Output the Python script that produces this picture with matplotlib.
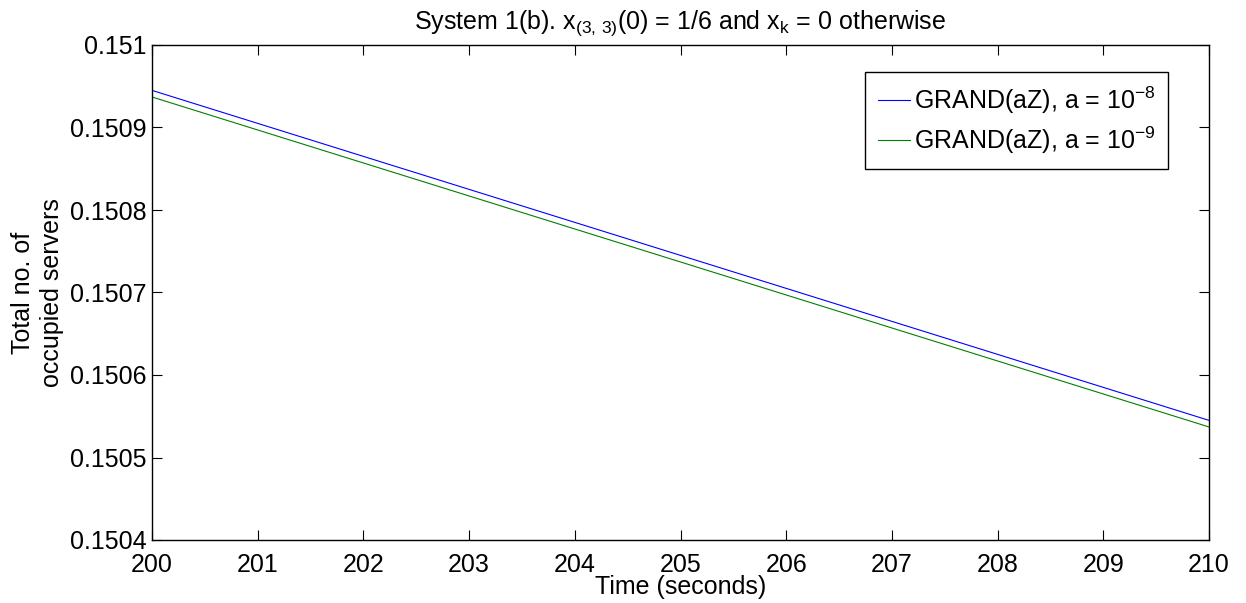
import numpy as np
import matplotlib
matplotlib.use("Agg")
import matplotlib.pyplot as plt

plt.rcParams['font.family'] = ['Liberation Sans', 'DejaVu Sans']
plt.rcParams['mathtext.fontset'] = 'custom'
plt.rcParams['mathtext.rm'] = 'Liberation Sans'
plt.rcParams['mathtext.it'] = 'Liberation Sans'
plt.rcParams['mathtext.bf'] = 'Liberation Sans:bold'

# data
time_s = [200, 201, 202, 203, 204, 205, 206, 207, 208, 209, 210]
servers_a8 = [0.150945, 0.150905, 0.150865, 0.150825, 0.150785, 0.150745,
              0.150705, 0.150665, 0.150625, 0.150585, 0.150545]
servers_a9 = [0.150937, 0.150897, 0.150857, 0.150817, 0.150777, 0.150737,
              0.150697, 0.150657, 0.150617, 0.150577, 0.150537]
x_ticks = [200, 201, 202, 203, 204, 205, 206, 207, 208, 209, 210]
y_ticks = [0.1504, 0.1505, 0.1506, 0.1507, 0.1508, 0.1509, 0.151]
y_tick_labels = ['0.1504', '0.1505', '0.1506', '0.1507', '0.1508', '0.1509', '0.151']

fig = plt.figure(figsize=(12.46, 6.03), dpi=100)
ax = fig.add_axes([152/1246, 1 - 540/603, (1209 - 152)/1246, (540 - 45)/603])

ax.plot(time_s, servers_a8, color=(0, 0, 1), lw=0.8, label=r'GRAND(aZ), a = 10$^{-8}$')
ax.plot(time_s, servers_a9, color=(0, 0.5, 0), lw=0.8, label=r'GRAND(aZ), a = 10$^{-9}$')

ax.set_xlim(200, 210)
ax.set_ylim(0.1504, 0.151)
ax.set_xticks(x_ticks)
ax.set_yticks(y_ticks)
ax.set_yticklabels(y_tick_labels)
ax.tick_params(direction='in', length=7, width=0.8, top=True, right=True,
               labelsize=18)
ax.tick_params(axis='x', pad=9)
ax.tick_params(axis='y', pad=4)
for s in ax.spines.values():
    s.set_linewidth(1.0)

ax.set_xlabel('Time (seconds)', fontsize=18, labelpad=-1)
ax.set_ylabel('Total no. of\noccupied servers', fontsize=18, labelpad=4,
              linespacing=1.3)
ax.set_title(r'System 1(b). x$_{(3,\,3)}$(0) = 1/6 and x$_{\rm k}$ = 0 otherwise',
             fontsize=18, pad=12)

leg = ax.legend(loc='upper right', bbox_to_anchor=(0.9612, 0.9455),
                borderaxespad=0, fontsize=18, handlelength=1.3,
                handletextpad=0.15, borderpad=0.5, labelspacing=0.35,
                fancybox=False, framealpha=1, edgecolor='black')
leg.get_frame().set_linewidth(1.0)

fig.savefig('out.png', dpi=100)
